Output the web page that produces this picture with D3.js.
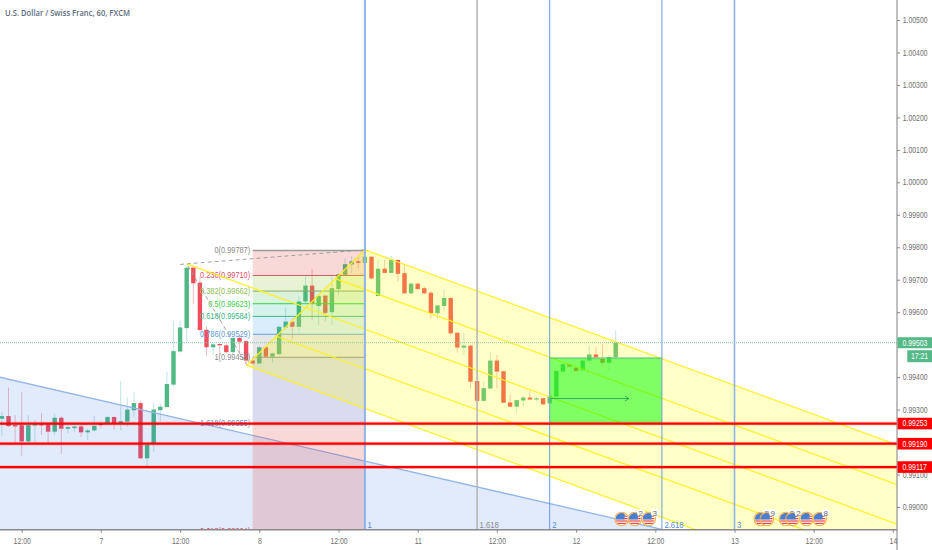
<!DOCTYPE html>
<html><head><meta charset="utf-8">
<script src="https://cdn.jsdelivr.net/npm/d3@7"></script>
<style>html,body{margin:0;background:#fff}svg{display:block}text{font-family:"Liberation Sans",sans-serif}</style>
</head><body><svg id="c" width="932" height="550"></svg>
<script>
const title = "U.S. Dollar / Swiss Franc, 60, FXCM";
const firstIndex = -3;
const opens = [0.99272,0.99280,0.99252,0.99252,0.99202,0.99251,0.99255,0.99255,0.99232,0.99275,0.99241,0.99243,0.99248,0.99230,0.99236,0.99256,0.99257,0.99277,0.99257,0.99263,0.99298,0.99320,0.99150,0.99194,0.99298,0.99308,0.99377,0.99479,0.99551,0.99737,0.99691,0.99546,0.99492,0.99502,0.99498,0.99477,0.99521,0.99511,0.99451,0.99442,0.99492,0.99463,0.99471,0.99553,0.99571,0.99555,0.99633,0.99682,0.99619,0.99651,0.99600,0.99671,0.99715,0.99747,0.99757,0.99752,0.99771,0.99650,0.99734,0.99721,0.99761,0.99720,0.99658,0.99688,0.99674,0.99660,0.99597,0.99619,0.99644,0.99537,0.99491,0.99497,0.99388,0.99327,0.99365,0.99451,0.99418,0.99322,0.99309,0.99328,0.99337,0.99331,0.99335,0.99319,0.99340,0.99417,0.99440,0.99429,0.99421,0.99451,0.99470,0.99456,0.99444,0.99461];
const highs = [0.99293,0.99368,0.99283,0.99354,0.99283,0.99268,0.99290,0.99260,0.99288,0.99280,0.99252,0.99255,0.99255,0.99242,0.99280,0.99263,0.99280,0.99280,0.99388,0.99338,0.99353,0.99327,0.99196,0.99319,0.99319,0.99417,0.99573,0.99575,0.99740,0.99740,0.99709,0.99557,0.99504,0.99504,0.99502,0.99521,0.99530,0.99513,0.99458,0.99496,0.99496,0.99475,0.99559,0.99615,0.99581,0.99648,0.99711,0.99733,0.99653,0.99653,0.99709,0.99720,0.99766,0.99773,0.99771,0.99791,0.99772,0.99763,0.99761,0.99773,0.99763,0.99745,0.99691,0.99691,0.99679,0.99666,0.99621,0.99670,0.99645,0.99537,0.99535,0.99499,0.99388,0.99386,0.99478,0.99468,0.99420,0.99345,0.99331,0.99342,0.99358,0.99340,0.99337,0.99345,0.99420,0.99442,0.99442,0.99432,0.99453,0.99496,0.99494,0.99502,0.99468,0.99543];
const lows = [0.99220,0.99247,0.99196,0.99158,0.99199,0.99196,0.99222,0.99196,0.99222,0.99163,0.99227,0.99232,0.99216,0.99206,0.99232,0.99242,0.99252,0.99237,0.99237,0.99247,0.99276,0.99147,0.99124,0.99170,0.99263,0.99304,0.99371,0.99476,0.99509,0.99625,0.99540,0.99466,0.99468,0.99468,0.99473,0.99473,0.99473,0.99442,0.99437,0.99440,0.99461,0.99444,0.99468,0.99545,0.99519,0.99537,0.99629,0.99576,0.99560,0.99571,0.99560,0.99653,0.99711,0.99720,0.99735,0.99748,0.99701,0.99648,0.99720,0.99720,0.99694,0.99657,0.99656,0.99670,0.99657,0.99581,0.99581,0.99602,0.99525,0.99475,0.99468,0.99365,0.99319,0.99325,0.99365,0.99365,0.99321,0.99307,0.99290,0.99309,0.99329,0.99327,0.99314,0.99317,0.99338,0.99416,0.99431,0.99417,0.99419,0.99448,0.99459,0.99437,0.99422,0.99458];
const closes = [0.99280,0.99249,0.99248,0.99202,0.99252,0.99256,0.99252,0.99232,0.99275,0.99241,0.99246,0.99248,0.99230,0.99236,0.99250,0.99255,0.99277,0.99257,0.99264,0.99300,0.99320,0.99150,0.99191,0.99300,0.99309,0.99379,0.99480,0.99553,0.99737,0.99689,0.99545,0.99492,0.99501,0.99498,0.99477,0.99521,0.99509,0.99451,0.99442,0.99492,0.99463,0.99473,0.99555,0.99571,0.99555,0.99633,0.99682,0.99627,0.99650,0.99598,0.99674,0.99717,0.99748,0.99757,0.99752,0.99771,0.99704,0.99734,0.99721,0.99761,0.99718,0.99658,0.99688,0.99671,0.99658,0.99597,0.99621,0.99644,0.99535,0.99491,0.99497,0.99386,0.99327,0.99366,0.99451,0.99417,0.99321,0.99309,0.99329,0.99337,0.99331,0.99335,0.99316,0.99342,0.99419,0.99440,0.99433,0.99419,0.99451,0.99470,0.99461,0.99444,0.99462,0.99506];

const priceTicks = [1.005,1.004,1.003,1.002,1.001,1.000,0.999,0.998,0.997,0.996,0.994,0.993,0.991,0.990];
const timeTickIndex = [0,12,24,36,48,60,72,84,96,108,120,132];
const timeTickLabels = ["12:00","7","12:00","8","12:00","11","12:00","12","12:00","13","12:00","14"];

const fibLevelNames = ["0","0.236","0.382","0.5","0.618","0.786","1","1.618","2.618"];
const fibLevelPrices = [0.99787,0.99710,0.99662,0.99623,0.99584,0.99529,0.99458,0.99255,0.98924];
const fibLineColors = ["#9a9a9a","#c9635f","#86a96a","#2fd04f","#3dbb7c","#64a0dc","#8c8c8c","#7ea6e0","#e04a5a"];
const fibTextColors = ["#8a8a8a","#e2505f","#8cc152","#35cf3f","#35b584","#5b9bdf","#8a8a8a","#5b9bdf","#e2505f"];
const fibFills = ["rgba(224,60,60,.2)","rgba(150,200,60,.22)","rgba(76,190,80,.2)","rgba(0,180,140,.17)","rgba(33,150,243,.17)","rgba(128,128,128,.2)","rgba(63,81,181,.2)","rgba(224,60,60,.2)"];
const fibStart = 35, fibEnd = 52;

const pitchA = [25, 0.99749], pitchB = [52, 0.99792], pitchC = [34.1, 0.99437];
const pitchFractions = [0, 0.25, 0.5, 0.75, 1];

const blueLine = [[-4, 0.99403],[97, 0.98931]];
const zoneIndex = [52,69,80,97,108];
const zoneLabels = ["1","1.618","2","2.618","3"];
const zoneColors = ["#8db3ea","#b4b4b4","#6a9de3","#6a9de3","#8db3ea"];
const zoneWidths = [2,1.5,1,1,1.6];
const zoneTextColors = ["#4f8fe0","#8a8a8a","#4f8fe0","#4f8fe0","#4f8fe0"];

const greenBoxTime = [80,97], greenBoxPrice = [0.99459,0.99257];
const arrowTime = [80,92], arrowPrice = 0.99334;

const redLevels = [0.99257,0.99195,0.99123];
const redLabels = ["0.99253","0.99190","0.99117"];
const lastPrice = 0.99506, lastLabel = "0.99503", countdown = "17:21";

const eventIndex = [90.9,92.9,95,112,112.9,115.8,116.8,118.9,120.9];
const eventCount = ["","2","3","5","9","2","2","","8"];

const W=932,H=550,paneR=897,paneB=529.7;
const x=d3.scaleLinear().domain([0,132]).range([21.7,892.9]);
const y=d3.scaleLinear().domain([0.99,1.005]).range([507,20]);
const svg=d3.select("#c");
const defs=svg.append("defs");
defs.append("clipPath").attr("id","pane").append("rect").attr("width",paneR).attr("height",paneB);
// the reference's lettering is tall and narrow: keep its height, narrow its run
const squeeze=(sel,f)=>sel.each(function(){
  const n=this.getComputedTextLength();
  d3.select(this).attr("textLength",n*f).attr("lengthAdjust","spacingAndGlyphs");
});

const pane=svg.append("g").attr("clip-path","url(#pane)");

// candles
const candles=opens.map((o,k)=>({i:firstIndex+k,o,h:highs[k],l:lows[k],c:closes[k]}));
const colorOf=d=>d.c>=d.o?"#4fb884":"#f04e5c";
const cg=pane.append("g");
cg.selectAll("line").data(candles).join("line")
 .attr("x1",d=>x(d.i)).attr("x2",d=>x(d.i)).attr("y1",d=>y(d.h)).attr("y2",d=>y(d.l))
 .attr("stroke",d=>d.c>=d.o?"#a9d8e0":"#efa3aa").attr("stroke-width",1).attr("opacity",.7);
cg.selectAll("rect").data(candles).join("rect")
 .attr("x",d=>x(d.i)-2.2).attr("width",4.4)
 .attr("y",d=>y(Math.max(d.o,d.c))).attr("height",d=>Math.max(1.2,Math.abs(y(d.o)-y(d.c))))
 .attr("fill",colorOf);

// blue trend region
const [b0,b1]=blueLine;
const yBottom=y.invert(paneB);
pane.append("path").attr("d",d3.line().x(d=>x(d[0])).y(d=>y(d[1]))([b0,b1,[b1[0],yBottom],[b0[0],yBottom]]))
 .attr("fill","rgba(33,100,230,.13)");
pane.append("path").attr("d",d3.line().x(d=>x(d[0])).y(d=>y(d[1]))([b0,b1]))
 .attr("stroke","#92b6ea").attr("stroke-width",1.3).attr("fill","none");

// fib retracement (drawn one pixel up, as on the reference)
const fg=pane.append("g").attr("transform","translate(0,-1)");
fibFills.forEach((f,k)=>{
  fg.append("rect").attr("x",x(fibStart)).attr("width",x(fibEnd)-x(fibStart))
    .attr("y",y(fibLevelPrices[k])).attr("height",y(fibLevelPrices[k+1])-y(fibLevelPrices[k])).attr("fill",f);
});
fibLevelPrices.forEach((p,k)=>{
  fg.append("line").attr("x1",x(fibStart)).attr("x2",x(fibEnd)).attr("y1",y(p)).attr("y2",y(p))
    .attr("stroke",fibLineColors[k]).attr("stroke-width",k==0?1.5:1);
  fg.append("text").attr("x",x(fibStart)-2.5).attr("y",y(p)+3).attr("text-anchor","end")
    .attr("font-size",8.8).attr("fill",fibTextColors[k]).text(`${fibLevelNames[k]}(${p.toFixed(5)})`)
    .call(squeeze,.84);
});

// pitchfork
const mid=[(pitchB[0]+pitchC[0])/2,(pitchB[1]+pitchC[1])/2];
const dir=[mid[0]-pitchA[0],mid[1]-pitchA[1]];
const far=p=>[p[0]+dir[0]*6,p[1]+dir[1]*6];
const ln=d3.line().x(d=>x(d[0])).y(d=>y(d[1]));
pane.append("path").attr("d",ln([pitchB,far(pitchB),far(pitchC),pitchC])).attr("fill","rgba(255,255,0,.22)");
pane.append("path").attr("d",ln([pitchA,pitchB,pitchC,pitchA])).attr("stroke","#999").attr("stroke-width",.9)
 .attr("stroke-dasharray","4 3").attr("fill","none");
pane.append("path").attr("d",ln([[pitchA[0]-1,pitchA[1]-0.00002],pitchA])).attr("stroke","#999").attr("stroke-width",.9).attr("stroke-dasharray","4 3");
const at=f=>[pitchB[0]+(pitchC[0]-pitchB[0])*f,pitchB[1]+(pitchC[1]-pitchB[1])*f];
const yel="#fff01f";
pitchFractions.forEach(f=>{
  const p=at(f);
  pane.append("path").attr("d",ln([p,far(p)])).attr("stroke",yel).attr("stroke-width",1.2).attr("fill","none");
});
pane.append("path").attr("d",ln([pitchA,mid])).attr("stroke",yel).attr("stroke-width",1.2).attr("fill","none");
pane.append("path").attr("d",ln([pitchB,pitchC])).attr("stroke",yel).attr("stroke-width",1.2).attr("fill","none");

// green box + arrow
pane.append("rect").attr("x",x(greenBoxTime[0])).attr("width",x(greenBoxTime[1])-x(greenBoxTime[0]))
 .attr("y",y(greenBoxPrice[0])).attr("height",y(greenBoxPrice[1])-y(greenBoxPrice[0]))
 .attr("fill","rgba(0,255,0,.5)");
pane.append("line").attr("x1",x(greenBoxTime[0])).attr("x2",x(greenBoxTime[1])).attr("y1",y(greenBoxPrice[0])).attr("y2",y(greenBoxPrice[0]))
 .attr("stroke","#56b98c").attr("stroke-width",1.2);
const ay=y(arrowPrice),ax=x(arrowTime[1]);
pane.append("line").attr("x1",x(arrowTime[0])).attr("x2",ax).attr("y1",ay).attr("y2",ay).attr("stroke","#2fae62").attr("stroke-width",1);
pane.append("path").attr("d",`M${ax-4},${ay-2.5}L${ax},${ay}L${ax-4},${ay+2.5}`).attr("stroke","#2fae62").attr("fill","none");

// time zones
zoneIndex.forEach((t,k)=>{
  pane.append("line").attr("x1",x(t)).attr("x2",x(t)).attr("y1",0).attr("y2",paneB)
    .attr("stroke",zoneColors[k]).attr("stroke-width",zoneWidths[k]);
  pane.append("text").attr("x",x(t)+2.5).attr("y",527.5).attr("font-size",9).attr("fill",zoneTextColors[k]).text(zoneLabels[k])
    .call(squeeze,.85);
});

// last price dotted line
pane.append("line").attr("x1",0).attr("x2",paneR).attr("y1",y(lastPrice)).attr("y2",y(lastPrice))
 .attr("stroke","#7fcda6").attr("stroke-width",1).attr("stroke-dasharray","1 1");

// red lines
redLevels.forEach(p=>{
  pane.append("line").attr("x1",0).attr("x2",paneR).attr("y1",y(p)).attr("y2",y(p)).attr("stroke","rgba(255,0,0,.15)").attr("stroke-width",4);
  pane.append("line").attr("x1",0).attr("x2",paneR).attr("y1",y(p)).attr("y2",y(p)).attr("stroke","#ff0000").attr("stroke-width",2.2);
});

// events
eventIndex.forEach((t,k)=>{
  const cx=x(t),cy=519,id="ev"+k;
  const g=pane.append("g");
  defs.append("clipPath").attr("id",id).append("circle").attr("cx",cx).attr("cy",cy).attr("r",6);
  const f=g.append("g").attr("clip-path",`url(#${id})`);
  f.append("rect").attr("x",cx-6).attr("y",cy-6).attr("width",12).attr("height",12).attr("fill","#fff");
  [0,2.4,4.8,7.2,9.6].forEach(o=>f.append("rect").attr("x",cx-6).attr("y",cy-5.8+o).attr("width",12).attr("height",1.2).attr("fill","#e4483f"));
  f.append("rect").attr("x",cx-6).attr("y",cy-6).attr("width",9).attr("height",6.5).attr("fill","#4a7fd0");
  g.append("circle").attr("cx",cx).attr("cy",cy).attr("r",6.8).attr("fill","none").attr("stroke","#f6b050").attr("stroke-width",1.1);
  if(eventCount[k]){
    g.append("circle").attr("cx",cx+6).attr("cy",cy-6.3).attr("r",3.8).attr("fill","#fff");
    g.append("text").attr("x",cx+6).attr("y",cy-3.4).attr("text-anchor","middle").attr("font-size",8).attr("fill","#666").text(eventCount[k]);
  }
});

// axes
svg.append("line").attr("x1",paneR).attr("x2",paneR).attr("y1",0).attr("y2",550).attr("stroke","#8a8a8a").attr("stroke-width",1.1);
svg.append("line").attr("x1",0).attr("x2",paneR).attr("y1",paneB).attr("y2",paneB).attr("stroke","#8a8a8a").attr("stroke-width",1.4);
const ya=svg.append("g").attr("transform",`translate(${paneR},0)`)
 .call(d3.axisRight(y).tickValues(priceTicks).tickFormat(d3.format(".5f")).tickSize(3).tickPadding(2.7));
ya.select(".domain").remove();
ya.selectAll("line").attr("stroke","#888");
ya.selectAll("text").attr("font-size",8.2).attr("fill","#6f6f6f").attr("font-family",'"Liberation Sans",sans-serif').call(squeeze,.84);
const xa=svg.append("g").attr("transform",`translate(0,${paneB})`)
 .call(d3.axisBottom(x).tickValues(timeTickIndex).tickFormat((d,k)=>timeTickLabels[k]).tickSize(3).tickPadding(5));
xa.select(".domain").remove();
xa.selectAll("line").attr("stroke","#888");
xa.selectAll("text").attr("font-size",8.2).attr("fill","#6f6f6f").attr("font-family",'"Liberation Sans",sans-serif').call(squeeze,.84);

// price labels
redLevels.forEach((p,k)=>{
  svg.append("rect").attr("x",paneR+.5).attr("y",y(p)-5.8).attr("width",W-paneR).attr("height",11.6).attr("fill","#ff0000");
  svg.append("text").attr("x",paneR+5.5).attr("y",y(p)+2.9).attr("font-size",8.2).attr("fill","#fff").text(redLabels[k]).call(squeeze,.84);
});
svg.append("rect").attr("x",paneR+.5).attr("y",y(lastPrice)-5.5).attr("width",W-paneR).attr("height",11).attr("fill","#53b987");
svg.append("text").attr("x",paneR+5.5).attr("y",y(lastPrice)+2.9).attr("font-size",8.2).attr("fill","#fff").text(lastLabel).call(squeeze,.84);
svg.append("rect").attr("x",907.3).attr("y",y(lastPrice)+7.5).attr("width",W-907.3).attr("height",12).attr("fill","#53b987");
svg.append("text").attr("x",919.6).attr("y",y(lastPrice)+16.4).attr("text-anchor","middle").attr("font-size",8.2).attr("fill","#fff").text(countdown).call(squeeze,.84);

svg.append("text").attr("x",5).attr("y",16).style("font-family",'"Open Sans",sans-serif').attr("font-size",9.6).attr("font-weight",600).attr("fill","#5d6b7d")
 .attr("textLength",125).attr("lengthAdjust","spacingAndGlyphs").text(title);
</script></body></html>
